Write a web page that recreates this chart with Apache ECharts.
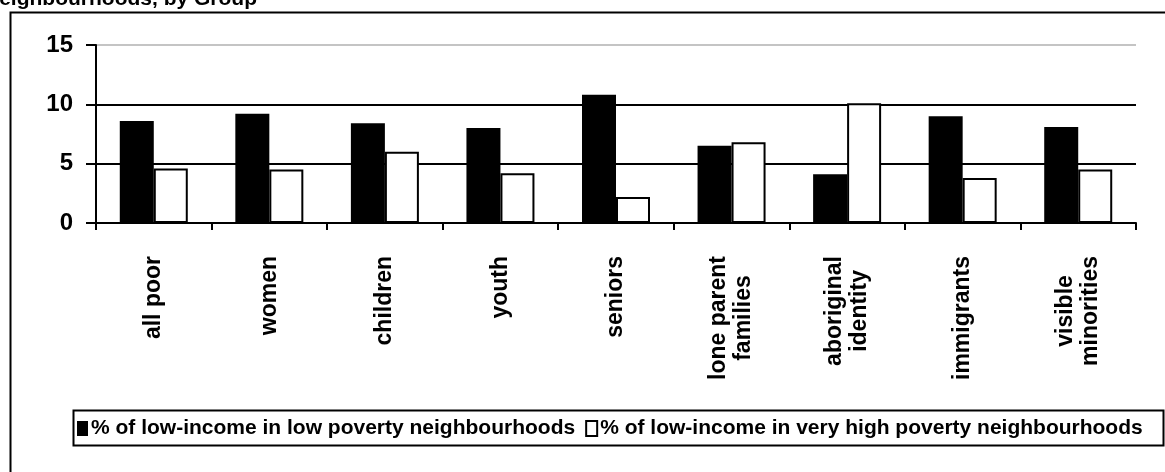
<!DOCTYPE html>
<html>
<head>
<meta charset="utf-8">
<script src="https://cdn.jsdelivr.net/npm/echarts@6/dist/echarts.min.js"></script>
<style>
html,body{margin:0;padding:0;background:#fff;}
#c{width:1165px;height:472px;}
</style>
</head>
<body>
<div id="c"></div>
<script>
const categories = ['all poor','women','children','youth','seniors','lone parent\nfamilies','aboriginal\nidentity','immigrants','visible\nminorities'];
const lowPoverty = [8.6, 9.2, 8.4, 8.0, 10.8, 6.5, 4.1, 9.0, 8.1];
const veryHighPoverty = [4.6, 4.5, 6.0, 4.2, 2.2, 6.8, 10.1, 3.8, 4.5];
const seriesNames = ['% of low-income in low poverty neighbourhoods', '% of low-income in very high poverty neighbourhoods'];
const titleText = 'Neighbourhoods, by Group';
const yTicks = [0, 5, 10, 15];

const FONT = '"Liberation Sans", Arial, sans-serif';
const chart = echarts.init(document.getElementById('c'));
chart.setOption({
  animation: false,
  backgroundColor: '#fff',
  title: {
    text: titleText,
    left: -16, top: -11, padding: 0,
    textStyle: { fontFamily: FONT, fontSize: 21, fontWeight: 'bold', color: '#000' }
  },
  graphic: [
    { type: 'rect', left: 8, top: 10, shape: { width: 1200, height: 500 }, style: { fill: 'none', stroke: '#000', lineWidth: 2 }, silent: true },
    { type: 'rect', left: 71, top: 408, shape: { width: 1090, height: 35 }, style: { fill: 'none', stroke: '#000', lineWidth: 2 }, silent: true }
  ],
  legend: {
    left: 77, top: 418, padding: 0, itemGap: 10,
    itemWidth: 11, itemHeight: 15,
    textStyle: { fontFamily: FONT, fontSize: 21, fontWeight: 'bold', color: '#000', padding: [0,0,0,-2] },
    data: [
      { name: seriesNames[0], icon: 'rect' },
      { name: seriesNames[1], icon: 'rect' }
    ]
  },
  grid: { left: 96, right: 29, top: 45, bottom: 249, containLabel: false },
  xAxis: {
    type: 'category',
    data: categories,
    axisLine: { lineStyle: { color: '#000', width: 2 } },
    axisTick: { show: true, length: 7, lineStyle: { color: '#000', width: 2 } },
    axisLabel: {
      rotate: 90, margin: 33, interval: 0,
      formatter: v => v.split('\n').map(s => '{c|' + s + '}').join('\n'),
      rich: { c: { align: 'center', fontFamily: FONT, fontSize: 23, fontWeight: 'bold', color: '#000', lineHeight: 25 } }
    }
  },
  yAxis: {
    type: 'value', min: yTicks[0], max: yTicks[yTicks.length-1], interval: 5,
    axisLine: { show: true, lineStyle: { color: '#000', width: 2 } },
    axisTick: { show: true, length: 10, lineStyle: { color: '#000', width: 2 } },
    axisLabel: { margin: 23, fontFamily: FONT, fontSize: 24, fontWeight: 'bold', color: '#000' },
    splitLine: { show: true, lineStyle: { color: ['#000', '#000', '#000', '#c4c4c4'], width: 2 } }
  },
  series: [
    { name: seriesNames[0], type: 'bar', data: lowPoverty, barWidth: 34, barGap: '0%',
      itemStyle: { color: '#000', borderColor: '#000', borderWidth: 0 } },
    { name: seriesNames[1], type: 'bar', data: veryHighPoverty, barWidth: 34, barGap: '0%',
      itemStyle: { color: '#fff', borderColor: '#000', borderWidth: 2 } }
  ]
});
</script>
</body>
</html>
